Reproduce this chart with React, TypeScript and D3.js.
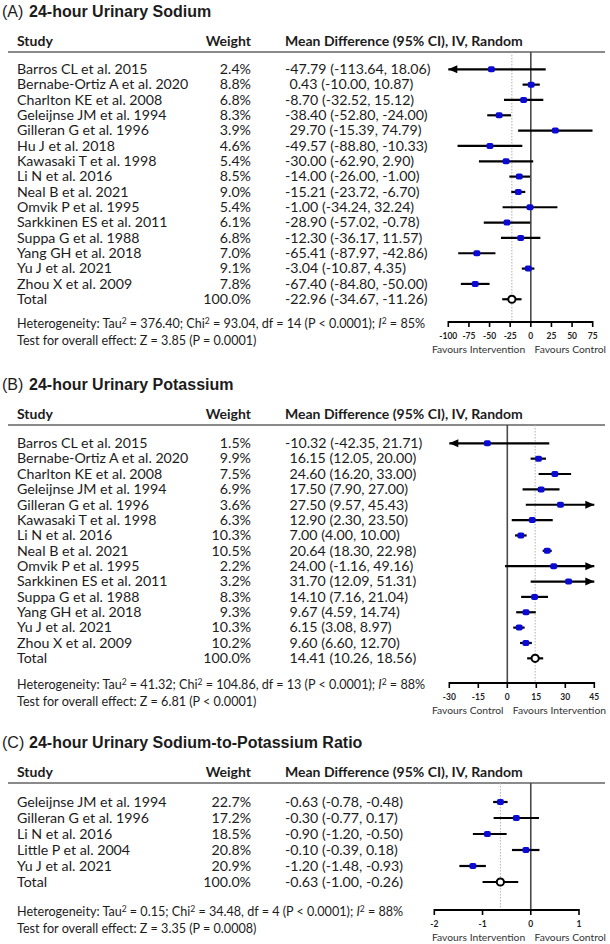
import React, { useEffect } from 'react';
import * as d3 from 'd3';

// ---- (A) 24-hour urinary sodium ----
const sodiumStudies = ['Barros CL et al. 2015', 'Bernabe-Ortiz A et al. 2020', 'Charlton KE et al. 2008', 'Geleijnse JM et al. 1994', 'Gilleran G et al. 1996', 'Hu J et al. 2018', 'Kawasaki T et al. 1998', 'Li N et al. 2016', 'Neal B et al. 2021', 'Omvik P et al. 1995', 'Sarkkinen ES et al. 2011', 'Suppa G et al. 1988', 'Yang GH et al. 2018', 'Yu J et al. 2021', 'Zhou X et al. 2009', 'Total'];
const sodiumWeights = [2.4, 8.8, 6.8, 8.3, 3.9, 4.6, 5.4, 8.5, 9.0, 5.4, 6.1, 6.8, 7.0, 9.1, 7.8, 100.0];
const sodiumMeans = [-47.79, 0.43, -8.70, -38.40, 29.70, -49.57, -30.00, -14.00, -15.21, -1.00, -28.90, -12.30, -65.41, -3.04, -67.40, -22.96];
const sodiumLows = [-113.64, -10.00, -32.52, -52.80, -15.39, -88.80, -62.90, -26.00, -23.72, -34.24, -57.02, -36.17, -87.97, -10.87, -84.80, -34.67];
const sodiumHighs = [18.06, 10.87, 15.12, -24.00, 74.79, -10.33, 2.90, -1.00, -6.70, 32.24, -0.78, 11.57, -42.86, 4.35, -50.00, -11.26];
const sodiumTicks = [-100, -75, -50, -25, 0, 25, 50, 75];
const sodiumHet = ['376.40', '93.04', '14', 'P < 0.0001', '85%'];
const sodiumTest = ['3.85', 'P = 0.0001'];

// ---- (B) 24-hour urinary potassium ----
const potassiumStudies = ['Barros CL et al. 2015', 'Bernabe-Ortiz A et al. 2020', 'Charlton KE et al. 2008', 'Geleijnse JM et al. 1994', 'Gilleran G et al. 1996', 'Kawasaki T et al. 1998', 'Li N et al. 2016', 'Neal B et al. 2021', 'Omvik P et al. 1995', 'Sarkkinen ES et al. 2011', 'Suppa G et al. 1988', 'Yang GH et al. 2018', 'Yu J et al. 2021', 'Zhou X et al. 2009', 'Total'];
const potassiumWeights = [1.5, 9.9, 7.5, 6.9, 3.6, 6.3, 10.3, 10.5, 2.2, 3.2, 8.3, 9.3, 10.3, 10.2, 100.0];
const potassiumMeans = [-10.32, 16.15, 24.60, 17.50, 27.50, 12.90, 7.00, 20.64, 24.00, 31.70, 14.10, 9.67, 6.15, 9.60, 14.41];
const potassiumLows = [-42.35, 12.05, 16.20, 7.90, 9.57, 2.30, 4.00, 18.30, -1.16, 12.09, 7.16, 4.59, 3.08, 6.60, 10.26];
const potassiumHighs = [21.71, 20.00, 33.00, 27.00, 45.43, 23.50, 10.00, 22.98, 49.16, 51.31, 21.04, 14.74, 8.97, 12.70, 18.56];
const potassiumTicks = [-30, -15, 0, 15, 30, 45];
const potassiumHet = ['41.32', '104.86', '13', 'P < 0.0001', '88%'];
const potassiumTest = ['6.81', 'P < 0.0001'];

// ---- (C) sodium-to-potassium ratio ----
const ratioStudies = ['Geleijnse JM et al. 1994', 'Gilleran G et al. 1996', 'Li N et al. 2016', 'Little P et al. 2004', 'Yu J et al. 2021', 'Total'];
const ratioWeights = [22.7, 17.2, 18.5, 20.8, 20.9, 100.0];
const ratioMeans = [-0.63, -0.30, -0.90, -0.10, -1.20, -0.63];
const ratioLows = [-0.78, -0.77, -1.20, -0.39, -1.48, -1.00];
const ratioHighs = [-0.48, 0.17, -0.50, 0.18, -0.93, -0.26];
const ratioTicks = [-2, -1, 0, 1];
const ratioHet = ['0.15', '34.48', '4', 'P < 0.0001', '88%'];
const ratioTest = ['3.35', 'P = 0.0008'];

const BODY = 'Lato, "Open Sans", sans-serif';
const TITLE = '"Liberation Sans", Arial, sans-serif';
const INK = '#1c1c1c';
const BLUE = '#0a0ad2';

// plain hyphen-minus like the original table, not the unicode minus d3.format gives
const fmt = (v) => v.toFixed(2);

function ForestPanel(props) {
  const { tag, title, studies, weights, means, lows, highs, ticks, favLeft, favRight, het, test, top, step, rowsTop, axisY, xRange } = props;
  const x = d3.scaleLinear().domain([ticks[0], ticks[ticks.length - 1]]).range(xRange);
  const [dMin, dMax] = x.domain();
  const lineY = top + 40;
  const rowY = (i) => rowsTop + i * step;
  const last = studies.length - 1;
  const overall = means[last];

  return (
    <g>
      <text x={2} y={top + 5} fontFamily={TITLE} fontSize={16} fill={INK}>
        {`(${tag})`}
        <tspan x={29} fontWeight="bold">{title}</tspan>
      </text>

      <g fontFamily={BODY} fontWeight="bold" fontSize={14} fill={INK}>
        <text x={17} y={top + 34}>Study</text>
        <text x={251} y={top + 34} textAnchor="end">Weight</text>
        <text x={285} y={top + 34}>Mean Difference (95% CI), IV, Random</text>
      </g>
      <line x1={8} x2={605} y1={lineY} y2={lineY} stroke="#8a8a8a" strokeWidth={2} />

      {/* reference lines */}
      <line x1={x(overall)} x2={x(overall)} y1={lineY} y2={axisY} stroke="#b0b0b0" strokeWidth={1} strokeDasharray="1.5,1.5" />
      <line x1={x(0)} x2={x(0)} y1={lineY} y2={axisY} stroke="#4a4a4a" strokeWidth={1.6} />

      {studies.map((s, i) => {
        const y = rowY(i);
        const isTotal = i === last;
        const md = `${fmt(means[i])} (${fmt(lows[i])}, ${fmt(highs[i])})`;
        const lo = Math.max(lows[i], dMin);
        const hi = Math.min(highs[i], dMax);
        return (
          <g key={s}>
            <g fontFamily={BODY} fontSize={14.2} fill={INK}>
              <text x={17} y={y + 4.8}>{s}</text>
              <text x={251} y={y + 4.8} textAnchor="end">{`${weights[i].toFixed(1)}%`}</text>
              <text x={means[i] < 0 ? 285 : 289.5} y={y + 4.8}>{md}</text>
            </g>
            <line x1={x(lo)} x2={x(hi)} y1={y} y2={y} stroke="#000" strokeWidth={2.2} />
            {lows[i] < dMin && (
              <path d={`M${x(dMin)},${y} l9,-4 l0,8 z`} fill="#000" />
            )}
            {highs[i] > dMax && (
              <path d={`M${x(dMax)},${y} l-9,-4 l0,8 z`} fill="#000" />
            )}
            {isTotal ? (
              <circle cx={x(means[i])} cy={y} r={3.6} fill="#fff" stroke="#000" strokeWidth={2} />
            ) : (
              <rect x={x(means[i]) - 3.5} y={y - 3} width={7} height={6} rx={2} fill={BLUE} />
            )}
          </g>
        );
      })}

      {/* axis */}
      <line x1={xRange[0]} x2={xRange[1]} y1={axisY} y2={axisY} stroke="#000" strokeWidth={2} />
      {ticks.map((t) => (
        <g key={t}>
          <line x1={x(t)} x2={x(t)} y1={axisY - 1} y2={axisY + 5} stroke="#000" strokeWidth={1.6} />
          <text x={x(t)} y={axisY + 17} textAnchor="middle" fontFamily={BODY} fontWeight="bold" fontSize={8.5} fill={INK}>{t}</text>
        </g>
      ))}
      <g fontFamily={BODY} fontSize={10.3} fill="#333">
        <text x={432} y={axisY + 31}>{favLeft}</text>
        <text x={606} y={axisY + 31} textAnchor="end">{favRight}</text>
      </g>

      {/* heterogeneity */}
      <g fontFamily={BODY} fontSize={12.6} fill={INK}>
        <text x={17} y={axisY + 6}>
          {`Heterogeneity: Tau`}
          <tspan dy={-4.5} fontSize={8.5}>2</tspan>
          <tspan dy={4.5}>{` = ${het[0]}; Chi`}</tspan>
          <tspan dy={-4.5} fontSize={8.5}>2</tspan>
          <tspan dy={4.5}>{` = ${het[1]}, df = ${het[2]} (${het[3]}); `}</tspan>
          <tspan fontStyle="italic">I</tspan>
          <tspan dy={-4.5} fontSize={8.5}>2</tspan>
          <tspan dy={4.5}>{` = ${het[4]}`}</tspan>
        </text>
        <text x={17} y={axisY + 23}>{`Test for overall effect: Z = ${test[0]} (${test[1]})`}</text>
      </g>
    </g>
  );
}

export default function App() {
  useEffect(() => {
    document.body.style.margin = '0';
    document.body.style.background = '#fff';
  }, []);

  return (
    <svg width={610} height={944} viewBox="0 0 610 944" style={{ display: 'block', background: '#fff' }}>
      <ForestPanel
        tag="A" title="24-hour Urinary Sodium"
        studies={sodiumStudies} weights={sodiumWeights} means={sodiumMeans} lows={sodiumLows} highs={sodiumHighs}
        ticks={sodiumTicks} favLeft="Favours Intervention" favRight="Favours Control"
        het={sodiumHet} test={sodiumTest}
        top={12} rowsTop={69.3} step={15.33} axisY={322} xRange={[448.3, 592.7]}
      />
      <ForestPanel
        tag="B" title="24-hour Urinary Potassium"
        studies={potassiumStudies} weights={potassiumWeights} means={potassiumMeans} lows={potassiumLows} highs={potassiumHighs}
        ticks={potassiumTicks} favLeft="Favours Control" favRight="Favours Intervention"
        het={potassiumHet} test={potassiumTest}
        top={385} rowsTop={443.3} step={15.36} axisY={683} xRange={[449.3, 594.3]}
      />
      <ForestPanel
        tag="C" title="24-hour Urinary Sodium-to-Potassium Ratio"
        studies={ratioStudies} weights={ratioWeights} means={ratioMeans} lows={ratioLows} highs={ratioHighs}
        ticks={ratioTicks} favLeft="Favours Intervention" favRight="Favours Control"
        het={ratioHet} test={ratioTest}
        top={743} rowsTop={802} step={16} axisY={910} xRange={[434.3, 579]}
      />
    </svg>
  );
}
